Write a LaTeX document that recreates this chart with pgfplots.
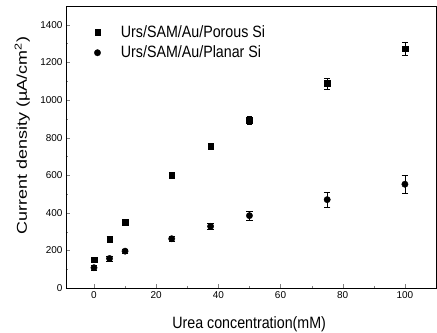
\documentclass[border=0pt]{standalone}
\usepackage{pgfplots}
\pgfplotsset{compat=1.18}
\usepackage{fontspec}
\usepackage{graphicx}
\setmainfont{Liberation Sans}
\newcommand{\vs}[1]{\scalebox{1}[1.15]{#1}}
\pgfplotsset{myleg/.style={legend image code/.code={\draw[##1] plot coordinates {(0.3cm,0cm)}; \path (0cm,0cm) (1.05cm,0cm);}}}
\begin{document}
\begin{tikzpicture}
\begin{axis}[
  name=ax,
  scale only axis,
  width=370bp, height=282bp,
  xmin=-9, xmax=110, ymin=0, ymax=1500,
  xtick={0,20,40,60,80,100},
  ytick={0,200,400,600,800,1000,1200,1400},
  minor x tick num=1, minor y tick num=1,
  tick align=inside,
  major tick length=4bp, minor tick length=2.5bp,
  xtick pos=bottom, ytick pos=left,
  tick label style={font=\fontsize{10}{11}\selectfont},
  /pgf/number format/assume math mode=true,
  /pgf/number format/1000 sep={},
  xlabel={\vs{Urea concentration(mM)}},
  ylabel={\scalebox{1.26}[1]{Current density (µA/cm\textsuperscript{2})}},
  label style={font=\fontsize{14.3}{16}\selectfont},
  xlabel style={at={(axis description cs:0.495,-0.142)}, anchor=base},
  ylabel style={at={(axis description cs:-0.118,0.541)}, anchor=center},
  axis line style={line width=1pt},
  legend style={draw=none, fill=none, at={(axis description cs:0.053,0.945)}, anchor=north west, font=\fontsize{14.3}{16}\selectfont, row sep=3bp},
  legend cell align=left,
]
\addplot[only marks, mark=square*, mark size=2.8pt, black, myleg,
  error bars/.cd, y dir=both, y explicit, error mark=-, error bar style={line width=0.5pt}]
  coordinates {
  (0,150) +- (0,15)
  (5,260) +- (0,15)
  (10,350) +- (0,15)
  (25,600) +- (0,15)
  (37.5,755) +- (0,15)
  (50,893) +- (0,20)
  (75,1088) +- (0,30)
  (100,1272) +- (0,36)
  };
\addlegendentry{\vs{Urs/SAM/Au/Porous Si}}
\addplot[only marks, mark=*, mark size=3.2pt, black, myleg,
  error bars/.cd, y dir=both, y explicit, error mark=-, error bar style={line width=0.5pt}]
  coordinates {
  (0,108) +- (0,12)
  (5,157) +- (0,12)
  (10,196) +- (0,12)
  (25,262) +- (0,12)
  (37.5,328) +- (0,15)
  (50,385) +- (0,24)
  (75,470) +- (0,38)
  (100,552) +- (0,48)
  };
\addlegendentry{\vs{Urs/SAM/Au/Planar Si}}
\end{axis}
\pgfresetboundingbox
\path ([shift={(-66bp,-45bp)}]ax.south west) rectangle ([shift={(1bp,6bp)}]ax.north east);
\end{tikzpicture}
\end{document}
